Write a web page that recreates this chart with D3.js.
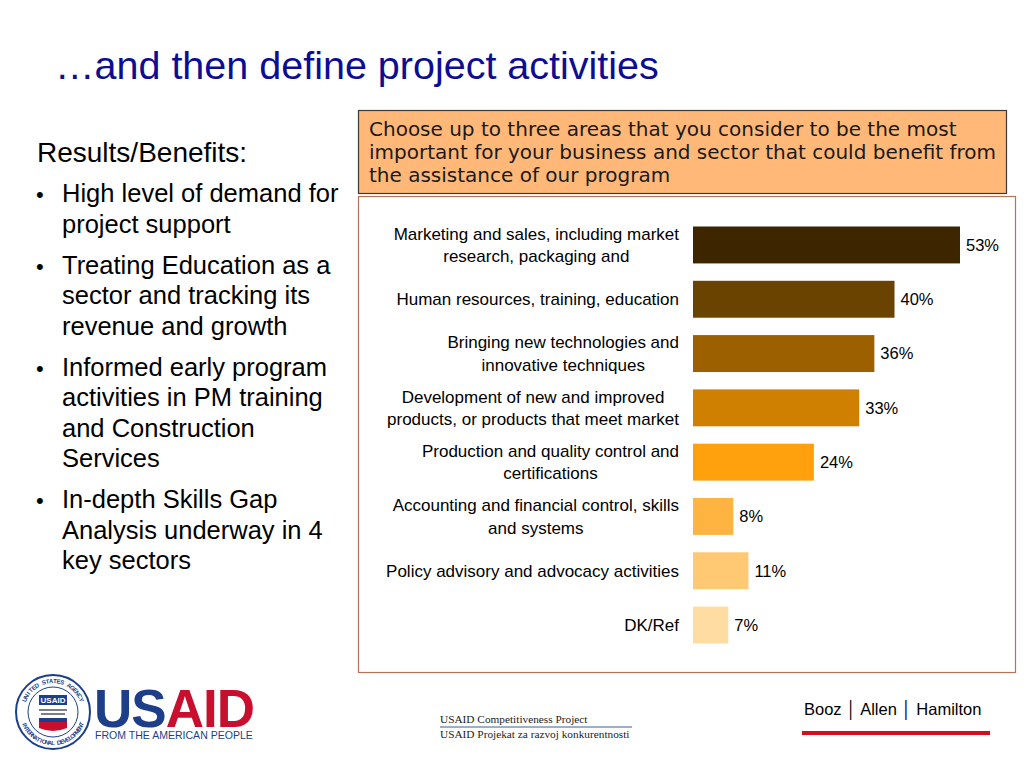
<!DOCTYPE html>
<html>
<head>
<meta charset="utf-8">
<script src="https://cdn.jsdelivr.net/npm/d3@7"></script>
<style>
  html, body { margin: 0; padding: 0; background: #fff; }
  svg { display: block; }
  text { font-family: "Liberation Sans", Arial, sans-serif; }
</style>
</head>
<body>
<div id="slide"></div>
<script>
// chart data
const categories = [
  ["Marketing and sales, including market", "research, packaging and"],
  ["Human resources, training, education"],
  ["Bringing new technologies and", "innovative techniques"],
  ["Development of new and improved", "products, or products that meet market"],
  ["Production and quality control and", "certifications"],
  ["Accounting and financial control, skills", "and systems"],
  ["Policy advisory and advocacy activities"],
  ["DK/Ref"]
];
const values = [53, 40, 36, 33, 24, 8, 11, 7];
const barColors = ["#3d2500", "#6a4300", "#9c6000", "#d08000", "#ffa00c", "#ffb340", "#ffc873", "#ffdca2"];

const questionLines = [
  "Choose up to three areas that you consider to be the most",
  "important for your business and sector that could benefit from",
  "the assistance of our program"
];

const bulletHead = "Results/Benefits:";
const bullets = [
  ["High level of demand for", "project support"],
  ["Treating Education as a", "sector and tracking its", "revenue and growth"],
  ["Informed early program", "activities in PM training", "and Construction", "Services"],
  ["In-depth Skills Gap", "Analysis underway in 4", "key sectors"]
];

const W = 1024, H = 768;

var svg = d3.select("#slide")
  .append("svg")
    .attr("width", W)
    .attr("height", H);

// title
svg.append("text")
  .attr("x", 55)
  .attr("y", 79)
  .style("font-size", "39.5px")
  .style("fill", "#0d0d94")
  .text("\u2026and then define project activities");

// left bullet list
svg.append("text")
  .attr("x", 37)
  .attr("y", 162)
  .style("font-size", "28px")
  .style("fill", "#000")
  .text(bulletHead);

var yy = 202;
bullets.forEach(function(lines) {
  svg.append("text")
    .attr("x", 36).attr("y", yy)
    .style("font-size", "22px")
    .text("\u2022");
  lines.forEach(function(l, i) {
    svg.append("text")
      .attr("x", 62).attr("y", yy + i * 30.5)
      .style("font-size", "25.5px")
      .style("fill", "#000")
      .text(l);
  });
  yy += (lines.length - 1) * 30.5 + 41;
});

// question box
svg.append("rect")
  .attr("x", 358.5).attr("y", 110.5)
  .attr("width", 648).attr("height", 83)
  .style("fill", "#ffb877")
  .style("stroke", "#3a3a3a")
  .style("stroke-width", 1.2);

svg.selectAll("qline")
  .data(questionLines).enter()
  .append("text")
    .attr("x", 369)
    .attr("y", function(d, i) { return 136 + i * 23; })
    .style("font-family", "'DejaVu Sans', Verdana, sans-serif")
    .style("font-size", "20px")
    .style("fill", "#1a1a1a")
    .text(function(d) { return d; });

// chart box
svg.append("rect")
  .attr("x", 358.5).attr("y", 196.5)
  .attr("width", 657).attr("height", 476)
  .style("fill", "#fff")
  .style("stroke", "#b5735a")
  .style("stroke-width", 1.2);

// scales
var x = d3.scaleLinear()
  .domain([0, 53])
  .range([693, 960]);

var y = d3.scaleBand()
  .domain(d3.range(values.length))
  .range([226.5, 643.5])
  .paddingInner(0.32)
  .paddingOuter(0);

var chart = svg.append("g");

chart.selectAll("bar")
  .data(values).enter()
  .append("rect")
    .attr("x", x(0))
    .attr("y", function(d, i) { return y(i); })
    .attr("width", function(d) { return x(d) - x(0); })
    .attr("height", y.bandwidth())
    .style("fill", function(d, i) { return barColors[i]; });

// value labels
chart.selectAll("val")
  .data(values).enter()
  .append("text")
    .attr("x", function(d) { return x(d) + 6; })
    .attr("y", function(d, i) { return y(i) + y.bandwidth() / 2; })
    .attr("dy", "0.35em")
    .style("font-size", "16.5px")
    .style("fill", "#000")
    .text(function(d) { return d + "%"; });

// category labels: block right aligned, lines centered in block
var rightEdge = 679;
categories.forEach(function(lines, i) {
  var g = chart.append("g");
  var cy = y(i) + y.bandwidth() / 2;
  var texts = lines.map(function(l, j) {
    return g.append("text")
      .attr("y", cy + (j - (lines.length - 1) / 2) * 22.5)
      .attr("dy", "0.35em")
      .style("font-size", "17px")
      .style("fill", "#000")
      .text(l);
  });
  var maxW = d3.max(texts, function(t) { return t.node().getComputedTextLength(); });
  texts.forEach(function(t) {
    t.attr("x", rightEdge - maxW / 2).style("text-anchor", "middle");
  });
});

// footer: USAID logo
var seal = svg.append("g").attr("transform", "translate(53,712)");
seal.append("circle").attr("r", 37).style("fill", "#fff").style("stroke", "#1d3f8a").style("stroke-width", 2);
seal.append("circle").attr("r", 25).style("fill", "#fff").style("stroke", "#1d3f8a").style("stroke-width", 1);

// ring lettering, one rotated glyph per character
function ringText(str, r, a0, a1, flip) {
  var n = str.length;
  str.split("").forEach(function(c, k) {
    var a = a0 + (a1 - a0) * (k + 0.5) / n;
    var rad = a * Math.PI / 180;
    seal.append("text")
      .attr("transform", "translate(" + (r * Math.sin(rad)) + "," + (-r * Math.cos(rad)) + ") rotate(" + (flip ? a + 180 : a) + ")")
      .attr("dy", "0.35em")
      .style("text-anchor", "middle")
      .style("font-size", "6px")
      .style("font-weight", "bold")
      .style("fill", "#1d3f8a")
      .text(c);
  });
}
ringText("UNITED STATES AGENCY", 31, -70, 70, false);
ringText("INTERNATIONAL DEVELOPMENT", 31, 250, 110, true);

seal.append("rect").attr("x", -14).attr("y", -17).attr("width", 28).attr("height", 10).style("fill", "#1d3f8a");
seal.append("text").attr("y", -9.5).style("text-anchor", "middle").style("font-size", "8px").style("font-weight", "bold").style("fill", "#fff").text("USAID");
seal.append("path").attr("d", "M -14 -2 L 14 -2 M -12 2 L 12 2").style("stroke", "#555").style("stroke-width", 1.5);
seal.append("rect").attr("x", -14).attr("y", 6).attr("width", 28).attr("height", 4).style("fill", "#1d3f8a");
seal.append("path").attr("d", "M -14 10 L 14 10 L 14 16 Q 0 22 -14 16 Z").style("fill", "#c8102e");

var usaid = svg.append("text")
  .attr("x", 94).attr("y", 727)
  .style("font-size", "53px").style("font-weight", "bold").style("letter-spacing", "-1px");
usaid.append("tspan").style("fill", "#1d3f8a").text("US");
usaid.append("tspan").style("fill", "#c8102e").text("AID");

var tagline = svg.append("text")
  .attr("x", 95).attr("y", 739)
  .style("font-size", "12px").style("fill", "#1d3f8a")
  .text("FROM THE AMERICAN PEOPLE");
var tw = tagline.node().getComputedTextLength();
tagline.style("font-size", (12 * 158 / tw) + "px");

// footer: project name
svg.append("text")
  .attr("x", 440).attr("y", 723)
  .style("font-family", "'Liberation Serif', serif").style("font-size", "11.3px").style("fill", "#222")
  .text("USAID Competitiveness Project");
svg.append("line")
  .attr("x1", 440).attr("x2", 632).attr("y1", 727).attr("y2", 727)
  .style("stroke", "#3b5e9c").style("stroke-width", 1);
svg.append("text")
  .attr("x", 440).attr("y", 738)
  .style("font-family", "'Liberation Serif', serif").style("font-size", "11.3px").style("fill", "#222")
  .text("USAID Projekat za razvoj konkurentnosti");

// footer: Booz Allen Hamilton
svg.append("text")
  .attr("x", 804).attr("y", 715)
  .style("font-size", "16.5px").style("fill", "#000")
  .text("Booz \u2502 Allen \u2502 Hamilton");
svg.append("line")
  .attr("x1", 802).attr("x2", 990).attr("y1", 733).attr("y2", 733)
  .style("stroke", "#d0101a").style("stroke-width", 4);
</script>
</body>
</html>
